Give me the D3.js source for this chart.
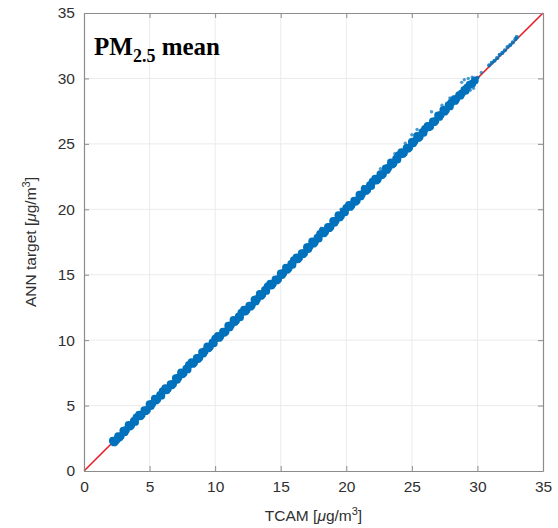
<!DOCTYPE html>
<html>
<head>
<meta charset="utf-8">
<script src="https://cdn.jsdelivr.net/npm/d3@7"></script>
<style>
  body { margin: 0; background: #fff; }
  svg { display: block; }
  .tick text { font-family: "Liberation Sans", Arial, sans-serif; font-size: 15.5px; fill: #303030; }
  .axis-label { font-family: "Liberation Sans", Arial, sans-serif; font-size: 15.5px; fill: #303030; }
</style>
</head>
<body>
<svg id="chart" width="558" height="528"></svg>
<script>
// Axis ticks
const xTicks = [0, 5, 10, 15, 20, 25, 30, 35];
const yTicks = [0, 5, 10, 15, 20, 25, 30, 35];

// TCAM vs ANN target samples [tcam, ann]
const bandPairs = [
  [2.2,2.32],[2.4,2.3],[2.6,2.66],[2.8,2.67],[3.0,3.09],[3.2,3.14],[3.4,3.53],[3.6,3.49],[3.8,3.83],[4.0,4.1],
  [4.2,4.31],[4.4,4.29],[4.6,4.65],[4.8,4.67],[5.0,5.1],[5.2,5.14],[5.4,5.53],[5.6,5.5],[5.8,5.82],[6.0,6.11],
  [6.2,6.33],[6.4,6.3],[6.6,6.63],[6.8,6.66],[7.0,7.1],[7.2,7.15],[7.4,7.54],[7.6,7.48],[7.8,7.82],[8.0,8.1],
  [8.2,8.31],[8.4,8.3],[8.6,8.65],[8.8,8.67],[9.0,9.09],[9.2,9.15],[9.4,9.53],[9.6,9.49],[9.8,9.83],[10.0,10.11],
  [10.2,10.32],[10.4,10.3],[10.6,10.64],[10.8,10.66],[11.0,11.1],[11.2,11.14],[11.4,11.54],[11.6,11.5],[11.8,11.82],[12.0,12.1],
  [12.2,12.33],[12.4,12.3],[12.6,12.64],[12.8,12.66],[13.0,13.09],[13.2,13.15],[13.4,13.53],[13.6,13.49],[13.8,13.83],[14.0,14.1],
  [14.2,14.32],[14.4,14.3],[14.6,14.65],[14.8,14.66],[15.0,15.1],[15.2,15.14],[15.4,15.54],[15.6,15.5],[15.8,15.82],[16.0,16.11],
  [16.2,16.33],[16.4,16.3],[16.6,16.64],[16.8,16.67],[17.0,17.1],[17.2,17.15],[17.4,17.55],[17.6,17.49],[17.8,17.83],[18.0,18.12],
  [18.2,18.34],[18.4,18.3],[18.6,18.66],[18.8,18.67],[19.0,19.11],[19.2,19.14],[19.4,19.55],[19.6,19.5],[19.8,19.84],[20.0,20.1],
  [20.2,20.33],[20.4,20.31],[20.6,20.66],[20.8,20.68],[21.0,21.12],[21.2,21.16],[21.4,21.56],[21.6,21.5],[21.8,21.85],[22.0,22.12],
  [22.2,22.35],[22.4,22.3],[22.6,22.68],[22.8,22.7],[23.0,23.12],[23.2,23.18],[23.4,23.58],[23.6,23.52],[23.8,23.86],[24.0,24.13],
  [24.2,24.37],[24.4,24.32],[24.6,24.7],[24.8,24.72],[25.0,25.15],[25.2,25.2],[25.4,25.6],[25.6,25.55],[25.8,25.9],[26.0,26.15],
  [26.2,26.38],[26.4,26.35],[26.6,26.72],[26.8,26.76],[27.0,27.18],[27.2,27.22],[27.4,27.6],[27.6,27.58],[27.8,27.95],[28.0,28.15],
  [28.2,28.36],[28.4,28.45],[28.6,28.72],[28.8,28.85],[29.0,29.12],[29.2,29.3],[29.4,29.52],[29.6,29.6],[29.8,29.85]
];

// second row, below the first one, keeps the band thick
const bandPairsLow = [
  [2.3,2.18],[2.5,2.4],[2.7,2.56],[3.1,2.97],[3.5,3.4],[3.9,3.75],[4.3,4.18],[4.7,4.57],[5.1,4.96],[5.5,5.38],[5.9,5.76],
  [6.3,6.17],[6.7,6.55],[7.1,6.97],[7.5,7.39],[7.9,7.76],[8.3,8.18],[8.7,8.56],[9.1,8.97],[9.5,9.38],[9.9,9.76],
  [10.3,10.17],[10.7,10.56],[11.1,10.97],[11.5,11.38],[11.9,11.75],[12.3,12.18],[12.7,12.56],[13.1,12.96],[13.5,13.38],[13.9,13.76],
  [14.3,14.17],[14.7,14.55],[15.1,14.97],[15.5,15.38],[15.9,15.76],[16.3,16.18],[16.7,16.56],[17.1,16.96],[17.5,17.37],[17.9,17.76],
  [18.3,18.17],[18.7,18.56],[19.1,18.97],[19.5,19.38],[19.9,19.77],[20.3,20.18],[20.7,20.57],[21.1,20.98],[21.5,21.4],[21.9,21.78],
  [22.3,22.2],[22.7,22.6],[23.1,23.0],[23.5,23.42],[23.9,23.8],[24.3,24.22],[24.7,24.62],[25.1,25.04],[25.5,25.44],[25.9,25.84],
  [26.3,26.26],[26.7,26.66],[27.1,27.06],[27.5,27.46],[27.9,27.86],[28.3,28.28],[28.7,28.68],[29.1,29.06]
];

// thin upper end of the cloud
const topPairs = [
  [30.0,30.05],[30.9,31.0],[31.1,31.2],[31.3,31.35],[31.5,31.55],[31.7,31.8],[31.9,31.95],[32.1,32.15],
  [32.3,32.4],[32.5,32.55],[32.7,32.75],[32.9,33.0],[33.0,33.15]
];

// scattered specks off the line
const outlierPairs = [
  [18.1,18.55],[19.6,20.0],[21.3,21.75],[22.6,23.1],[23.7,24.25],[24.5,25.05],[25.0,25.7],[25.4,26.1],
  [26.5,27.45],[26.5,26.2],[27.3,27.95],[27.9,28.5],[28.15,28.6],[28.8,29.7],[29.0,29.9],[29.3,30.0],
  [29.6,30.1],[29.45,29.1],[29.7,29.25],[30.3,30.45]
];

const refLine = [[0, 0], [35, 35]];

const svg = d3.select('#chart');
const margin = { left: 84, top: 13, right: 15, bottom: 57 };
const width = 558 - margin.left - margin.right;
const height = 528 - margin.top - margin.bottom;

const xScale = d3.scaleLinear().domain([0, 35]).range([0, width]);
const yScale = d3.scaleLinear().domain([0, 35]).range([height, 0]);

const chart = svg.append('g')
    .attr('transform', `translate(${margin.left},${margin.top})`);

// grid
chart.append('g')
    .selectAll('line')
    .data(xTicks.slice(1, -1))
    .join('line')
    .attr('x1', d => xScale(d)).attr('x2', d => xScale(d))
    .attr('y1', 0).attr('y2', height)
    .attr('stroke', '#ebebeb').attr('stroke-width', 1);
chart.append('g')
    .selectAll('line')
    .data(yTicks.slice(1, -1))
    .join('line')
    .attr('y1', d => yScale(d)).attr('y2', d => yScale(d))
    .attr('x1', 0).attr('x2', width)
    .attr('stroke', '#ebebeb').attr('stroke-width', 1);

// reference line y = x
chart.append('path')
    .datum(refLine)
    .attr('d', d3.line().x(d => xScale(d[0])).y(d => yScale(d[1])))
    .attr('stroke', '#e8202a')
    .attr('stroke-width', 1.6)
    .attr('fill', 'none');

const blue = '#0072bd';

function drawPoints(data, r, opacity) {
    chart.append('g')
        .selectAll('circle')
        .data(data)
        .join('circle')
        .attr('cx', d => xScale(d[0]))
        .attr('cy', d => yScale(d[1]))
        .attr('r', r)
        .attr('fill', blue)
        .attr('fill-opacity', opacity);
}

drawPoints(outlierPairs, 1.7, 0.7);
drawPoints(bandPairs.concat(bandPairsLow), 3.9, 1);
drawPoints(topPairs, 2.1, 0.9);

// axes (ticks inward)
const xAxis = chart.append('g')
    .attr('transform', `translate(0,${height})`)
    .call(d3.axisBottom(xScale).tickValues(xTicks).tickSizeInner(-5).tickSizeOuter(0).tickPadding(10));
const yAxis = chart.append('g')
    .call(d3.axisLeft(yScale).tickValues(yTicks).tickSizeInner(-5).tickSizeOuter(0).tickPadding(9));
const xTop = chart.append('g')
    .call(d3.axisTop(xScale).tickValues(xTicks).tickSizeInner(-5).tickSizeOuter(0).tickFormat(''));
const yRight = chart.append('g')
    .attr('transform', `translate(${width},0)`)
    .call(d3.axisRight(yScale).tickValues(yTicks).tickSizeInner(-5).tickSizeOuter(0).tickFormat(''));

[xAxis, yAxis, xTop, yRight].forEach(a => {
    a.select('.domain').attr('stroke', '#8c8c8c').attr('stroke-width', 1.2);
    a.selectAll('.tick line').attr('stroke', '#8c8c8c');
});

// axis labels
const xLabel = svg.append('text')
    .attr('class', 'axis-label')
    .attr('x', margin.left + width / 2)
    .attr('y', 521)
    .attr('text-anchor', 'middle');
xLabel.append('tspan').text('TCAM [');
xLabel.append('tspan').attr('font-style', 'italic').text('μ');
xLabel.append('tspan').text('g/m');
xLabel.append('tspan').attr('dy', -6).attr('font-size', 11).text('3');
xLabel.append('tspan').attr('dy', 6).text(']');

const yLabel = svg.append('text')
    .attr('class', 'axis-label')
    .attr('transform', `translate(36,${margin.top + height / 2}) rotate(-90)`)
    .attr('text-anchor', 'middle');
yLabel.append('tspan').text('ANN target [');
yLabel.append('tspan').attr('font-style', 'italic').text('μ');
yLabel.append('tspan').text('g/m');
yLabel.append('tspan').attr('dy', -6).attr('font-size', 11).text('3');
yLabel.append('tspan').attr('dy', 6).text(']');

// title inside the plot
const title = svg.append('text')
    .attr('x', 94)
    .attr('y', 55)
    .attr('font-family', '"Liberation Serif", "Times New Roman", serif')
    .attr('font-weight', 'bold')
    .attr('font-size', 25)
    .attr('fill', '#000');
title.append('tspan').text('PM');
title.append('tspan').attr('dy', 7).attr('font-size', 18).text('2.5');
title.append('tspan').attr('dy', -7).text(' mean');
</script>
</body>
</html>
